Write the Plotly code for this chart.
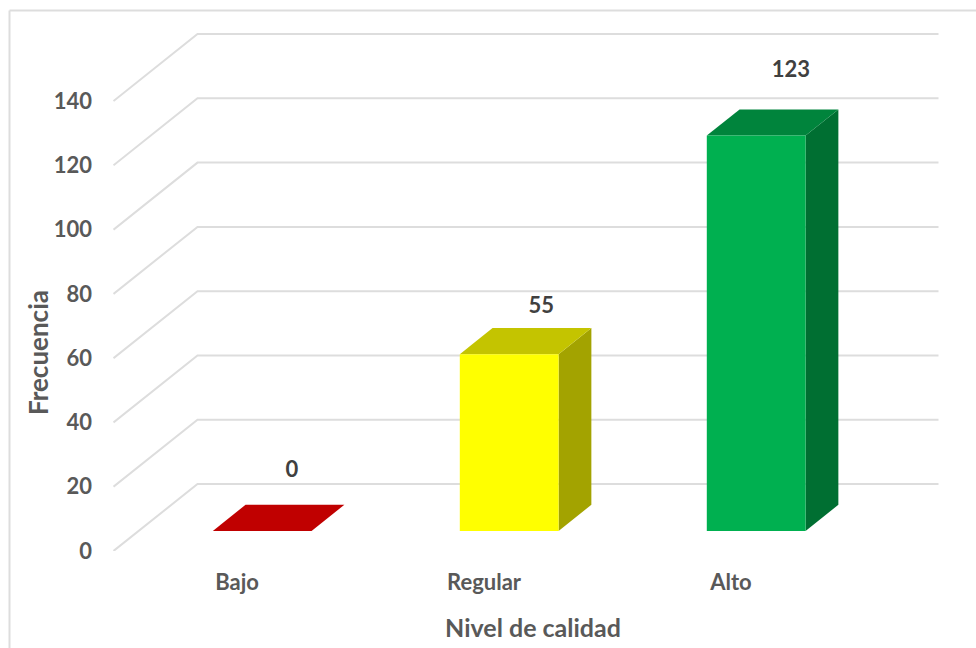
import plotly.graph_objects as go

categories = ["Bajo", "Regular", "Alto"]
frecuencia = [0, 55, 123]
y_ticks = [0, 20, 40, 60, 80, 100, 120, 140]

## style, not data
front_colors = ["#C00000", "#FFFF00", "#00B050"]
top_colors = ["#C00000", "#C4C400", "#00843C"]
side_colors = ["#900000", "#A3A300", "#006F32"]
label_lift = [18.6, 14.6, 19.8]      # data label height over the bar, in axis units
label_shift = [0.12, 0.13, 0.14]     # data label shift to the right, in categories
TEXT = "#595959"
GRID = "#DDDDDD"
FONT = "Lato"

W, H = 976, 648
ML, MR, MT, MB = 113, 23, 0, 97
CAT_PX = 247.0    # width of one category band
UNIT_PX = 3.214   # pixels per unit of frequency

# oblique projection: depth 0 = front of floor, depth 1 = back wall
DEPTH_X = 84 / CAT_PX
DEPTH_Y = 67 / UNIT_PX
BAR_HALF = 0.2
BAR_D0, BAR_D1 = 0.30, 0.69


def proj(cat, val, depth):
    return cat + depth * DEPTH_X, val + depth * DEPTH_Y


def polygon(points, color):
    xs, ys = zip(*points)
    return go.Scatter(x=list(xs) + [xs[0]], y=list(ys) + [ys[0]],
                      mode="lines", fill="toself", fillcolor=color,
                      line=dict(width=0), hoverinfo="skip", showlegend=False)


fig = go.Figure()

## Gridlines: diagonal on the side wall, then along the back wall
for v in y_ticks:
    p0 = proj(-0.5, v, 0)
    p1 = proj(-0.5, v, 1)
    p2 = proj(2.5, v, 1)
    fig.add_trace(go.Scatter(x=[p0[0], p1[0], p2[0]], y=[p0[1], p1[1], p2[1]],
                             mode="lines", line=dict(color=GRID, width=2),
                             hoverinfo="skip", showlegend=False))

## Bars
for i, val in enumerate(frecuencia):
    l, r = i - BAR_HALF, i + BAR_HALF
    fig.add_trace(polygon([proj(r, 0, BAR_D0), proj(r, 0, BAR_D1),
                           proj(r, val, BAR_D1), proj(r, val, BAR_D0)], side_colors[i]))
    fig.add_trace(polygon([proj(l, val, BAR_D0), proj(l, val, BAR_D1),
                           proj(r, val, BAR_D1), proj(r, val, BAR_D0)], top_colors[i]))
    fig.add_trace(polygon([proj(l, 0, BAR_D0), proj(r, 0, BAR_D0),
                           proj(r, val, BAR_D0), proj(l, val, BAR_D0)], front_colors[i]))

## Data labels
label_pts = [proj(i + label_shift[i], v + label_lift[i], BAR_D0) for i, v in enumerate(frecuencia)]
fig.add_trace(go.Scatter(x=[p[0] for p in label_pts], y=[p[1] for p in label_pts],
                         mode="text", text=[str(v) for v in frecuencia],
                         textposition="middle center",
                         textfont=dict(family=FONT, size=22, color="#404040", weight="bold"),
                         hoverinfo="skip", showlegend=False))

plot_w = W - ML - MR
plot_h = H - MT - MB

fig.update_xaxes(range=[-(237 - ML) / CAT_PX, (W - MR - 237) / CAT_PX],
                 tickvals=list(range(len(categories))), ticktext=categories,
                 ticks="", ticklabelstandoff=16,
                 showgrid=False, zeroline=False, showline=False,
                 tickfont=dict(family=FONT, size=22, color=TEXT, weight="bold"),
                 title=dict(text="Nivel de calidad", standoff=25,
                            font=dict(family=FONT, size=25, color=TEXT, weight="bold")))
fig.update_yaxes(range=[0, plot_h / UNIT_PX],
                 tickvals=y_ticks, ticks="", ticklabelstandoff=20,
                 showgrid=False, zeroline=False, showline=False,
                 tickfont=dict(family=FONT, size=22, color=TEXT, weight="bold"))

## Chart frame (open at right and bottom, the picture is cropped there)
fx = (9.5 - ML) / plot_w
fy = 1 - 10.5 / plot_h
fig.add_shape(type="line", xref="paper", yref="paper", x0=fx, x1=fx,
              y0=-MB / plot_h, y1=fy, line=dict(color=GRID, width=2))
fig.add_shape(type="line", xref="paper", yref="paper", x0=fx, x1=1 + MR / plot_w,
              y0=fy, y1=fy, line=dict(color=GRID, width=2))

fig.add_annotation(text="Frecuencia", textangle=-90, showarrow=False,
                   xref="paper", x=(38 - ML) / plot_w, xanchor="center",
                   yref="y", y=(H - MB - 353) / UNIT_PX, yanchor="middle",
                   font=dict(family=FONT, size=26, color=TEXT, weight="bold"))

fig.update_layout(width=W, height=H, autosize=False,
                  margin=dict(l=ML, r=MR, t=MT, b=MB, autoexpand=False),
                  plot_bgcolor="#FFFFFF", paper_bgcolor="#FFFFFF",
                  showlegend=False)

fig.write_html("out.html", config=dict(displayModeBar=False),
               post_script="document.body.style.margin='0';")
